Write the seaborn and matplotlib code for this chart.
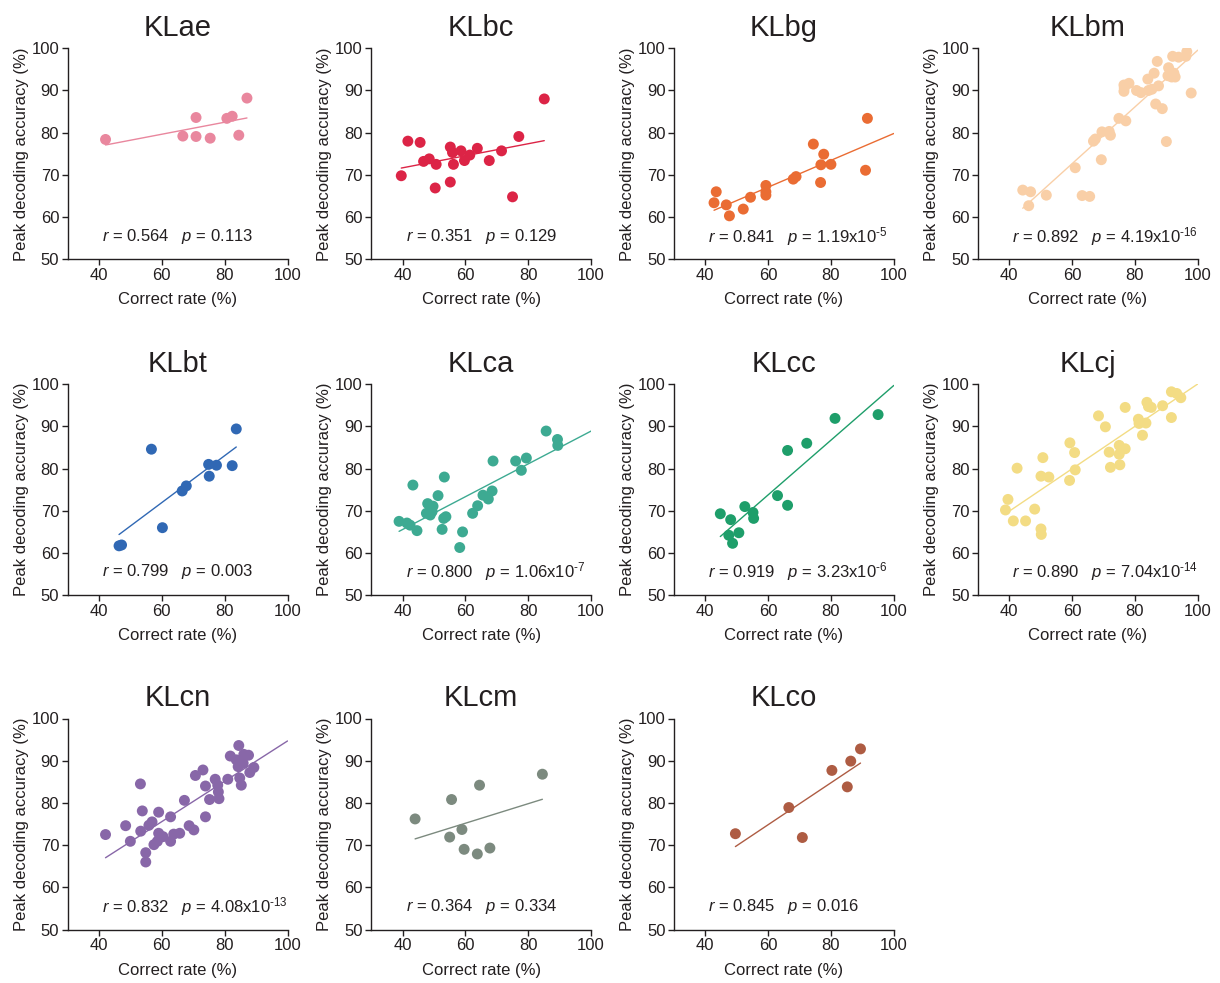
import numpy as np
import pandas as pd
import matplotlib
matplotlib.use("Agg")
import matplotlib.pyplot as plt
import seaborn as sns

# ---------------- data ----------------
names = ["KLae", "KLbc", "KLbg", "KLbm", "KLbt", "KLca", "KLcc", "KLcj", "KLcn", "KLcm", "KLco"]
colors = ["#E9879E", "#DC2446", "#EA6C33", "#F9CFA7", "#3068B4", "#3DAA92",
          "#1E9E6A", "#F3DC84", "#8867A8", "#7C8A7F", "#AE5C43"]
r_text = ["0.564", "0.351", "0.841", "0.892", "0.799", "0.800", "0.919", "0.890", "0.832", "0.364", "0.845"]
p_text = ["0.113", "0.129", "1.19x10$^{\\text{-}5}$", "4.19x10$^{\\text{-}16}$", "0.003", "1.06x10$^{\\text{-}7}$",
          "3.23x10$^{\\text{-}6}$", "7.04x10$^{\\text{-}14}$", "4.08x10$^{\\text{-}13}$", "0.334", "0.016"]
line_to_edge = [False, False, True, True, False, True, True, True, True, False, False]

klae_x = [42.1, 66.7, 70.9, 70.9, 75.4, 80.7, 82.4, 84.5, 87.1]
klae_y = [78.4, 79.2, 83.6, 79.1, 78.7, 83.4, 83.9, 79.4, 88.2]

klbc_x = [39.6, 41.7, 45.6, 46.7, 48.5, 50.7, 50.4, 55.2, 55.9, 55.2, 56.2, 58.6, 59.7, 61.4, 63.8, 67.6, 71.5, 75.0, 77.0, 85.1]
klbc_y = [69.8, 78.0, 77.7, 73.2, 73.8, 72.5, 66.9, 76.6, 75.3, 68.3, 72.5, 75.7, 73.4, 74.7, 76.3, 73.4, 75.7, 64.8, 79.1, 88.0]

klbg_x = [43.5, 42.8, 46.7, 47.7, 52.1, 54.4, 59.3, 59.3, 59.3, 68.0, 68.9, 74.4, 77.7, 76.8, 76.7, 80.0, 91.0, 91.6]
klbg_y = [66.0, 63.4, 62.9, 60.3, 61.9, 64.7, 67.5, 66.0, 65.2, 69.0, 69.6, 77.3, 74.9, 72.4, 68.2, 72.5, 71.1, 83.4]

klbm_x = [44.3, 46.8, 46.2, 51.8, 61.0, 63.2, 65.6, 69.3, 66.8, 67.4, 69.5, 71.8, 72.2, 74.9, 77.1,
          76.5, 76.5, 78.1, 76.6, 80.5, 81.9, 84.3, 85.4, 87.5, 84.1, 86.1, 87.1, 86.6, 88.7, 90.0,
          90.7, 91.3, 91.7, 90.5, 92.4, 92.8, 92.0, 93.9, 96.2, 96.5, 97.9]
klbm_y = [66.4, 66.0, 62.7, 65.2, 71.7, 65.1, 64.9, 73.6, 78.0, 78.5, 80.2, 80.3, 79.4, 83.4, 82.8,
          91.3, 89.8, 91.7, 90.6, 90.0, 89.5, 90.0, 90.3, 91.1, 92.7, 94.1, 96.9, 86.8, 85.7, 77.9,
          95.4, 93.9, 93.2, 93.5, 94.1, 93.2, 98.1, 97.9, 98.1, 99.2, 89.4]

klbt_x = [46.4, 47.2, 56.7, 60.2, 66.5, 67.8, 74.9, 75.1, 77.4, 82.4, 83.7]
klbt_y = [61.7, 61.9, 84.6, 66.0, 74.7, 75.9, 81.0, 78.2, 80.8, 80.7, 89.4]

klca_x = [38.9, 41.4, 42.4, 43.3, 44.6, 48.0, 49.7, 47.6, 48.8, 49.4, 51.3, 52.6, 53.3, 53.1, 53.8,
          58.2, 59.1, 62.3, 63.9, 65.6, 67.3, 68.5, 68.8, 76.0, 77.8, 79.4, 85.7, 89.3, 89.4]
klca_y = [67.5, 67.1, 66.6, 76.1, 65.3, 71.7, 71.1, 69.4, 69.0, 69.8, 73.6, 65.6, 78.0, 68.2, 68.6,
          61.3, 65.0, 69.4, 71.2, 73.7, 72.8, 74.7, 81.8, 81.8, 79.6, 82.5, 88.9, 86.9, 85.5]

klcc_x = [44.8, 48.1, 47.5, 48.7, 50.7, 52.6, 55.2, 55.4, 63.0, 66.2, 66.2, 72.3, 81.3, 95.0]
klcc_y = [69.3, 67.9, 64.2, 62.3, 64.8, 71.0, 69.6, 68.2, 73.6, 84.3, 71.3, 86.0, 91.9, 92.8]

klcj_x = [38.8, 39.6, 41.3, 42.5, 45.2, 48.1, 50.1, 50.2, 50.1, 50.7, 52.6, 59.2, 59.3, 60.8, 61.0,
          68.4, 70.6, 71.8, 72.2, 75.0, 75.0, 75.2, 76.9, 76.9, 81.1, 81.3, 83.5, 82.4, 83.8, 84.3,
          85.2, 88.8, 91.6, 91.6, 93.3, 94.6]
klcj_y = [70.2, 72.7, 67.6, 80.1, 67.6, 70.4, 65.7, 64.4, 78.2, 82.6, 78.0, 77.2, 86.1, 83.8, 79.7,
          92.5, 89.9, 83.9, 80.3, 85.5, 83.4, 80.9, 84.7, 94.5, 91.7, 90.7, 90.8, 87.9, 95.7, 94.7,
          94.5, 94.9, 92.1, 98.2, 97.8, 96.8]

klcn_x = [42.1, 48.5, 50.0, 53.2, 53.8, 53.3, 54.9, 54.9, 55.9, 56.9, 59.0, 57.5, 58.6, 59.0, 60.4,
          62.8, 62.8, 63.8, 65.7, 67.2, 68.7, 70.2, 70.7, 73.1, 73.9, 73.9, 75.2, 77.0, 77.8, 78.2,
          78.0, 81.0, 81.8, 83.7, 84.5, 84.3, 84.8, 85.3, 86.1, 87.6, 88.0, 89.3, 85.9]
klcn_y = [72.5, 74.6, 70.9, 84.5, 78.1, 73.3, 68.2, 66.0, 74.7, 75.5, 77.8, 70.1, 70.9, 72.8, 72.0,
          76.7, 70.9, 72.6, 72.8, 80.6, 74.6, 73.6, 86.5, 87.8, 84.0, 76.7, 80.8, 85.6, 84.2, 81.0,
          82.6, 85.6, 91.1, 90.2, 93.6, 88.6, 85.9, 84.2, 91.5, 91.3, 87.2, 88.4, 89.4]

klcm_x = [44.0, 55.0, 55.6, 58.9, 59.6, 63.8, 64.5, 67.8, 84.5]
klcm_y = [76.2, 71.9, 80.8, 73.7, 69.0, 67.9, 84.2, 69.3, 86.8]

klco_x = [49.6, 66.6, 70.9, 80.3, 85.2, 86.3, 89.4]
klco_y = [72.7, 78.9, 71.8, 87.7, 83.8, 89.9, 92.8]

xs = [klae_x, klbc_x, klbg_x, klbm_x, klbt_x, klca_x, klcc_x, klcj_x, klcn_x, klcm_x, klco_x]
ys = [klae_y, klbc_y, klbg_y, klbm_y, klbt_y, klca_y, klcc_y, klcj_y, klcn_y, klcm_y, klco_y]

x_ticks = [40, 60, 80, 100]
y_ticks = [50, 60, 70, 80, 90, 100]

# ---------------- style ----------------
sns.set_style("ticks")
txt_col = "#231F20"
plt.rcParams["font.family"] = ["Liberation Sans", "DejaVu Sans"]
plt.rcParams["mathtext.fontset"] = "custom"
plt.rcParams["mathtext.rm"] = "Liberation Sans"
plt.rcParams["mathtext.it"] = "Liberation Sans:italic"
plt.rcParams["text.color"] = txt_col
plt.rcParams["axes.labelcolor"] = txt_col
plt.rcParams["xtick.color"] = txt_col
plt.rcParams["ytick.color"] = txt_col

W, H = 1220, 983
fig = plt.figure(figsize=(W / 100, H / 100), dpi=100)

col_left = [67.5, 371.1, 673.8, 977.8]
row_top = [48.3, 384.2, 718.5]
ax_w, ax_h = 220.0, 211.0

for i, name in enumerate(names):
    r, c = divmod(i, 4)
    left = col_left[c] / W
    bottom = 1 - (row_top[r] + ax_h) / H
    ax = fig.add_axes([left, bottom, ax_w / W, ax_h / H])

    x = np.array(xs[i])
    y = np.array(ys[i])
    df = pd.DataFrame({"x": x, "y": y})

    slope, icpt = np.polyfit(x, y, 1)
    x_end = 100.0 if line_to_edge[i] else x.max()
    lx = np.array([x.min(), x_end])
    ly = slope * lx + icpt
    line_df = pd.DataFrame({"x": lx, "y": ly})
    sns.lineplot(data=line_df, x="x", y="y", ax=ax, color=colors[i], linewidth=1.0, zorder=2)
    sns.scatterplot(data=df, x="x", y="y", ax=ax, color=colors[i], s=62,
                    edgecolor="none", linewidth=0, zorder=3)

    ax.set_xlim(30, 100)
    ax.set_ylim(50, 100)
    ax.set_xticks(x_ticks)
    ax.set_yticks(y_ticks)
    ax.tick_params(axis="both", labelsize=12, length=4, width=1, direction="out", pad=2)
    for s in ["top", "right"]:
        ax.spines[s].set_visible(False)
    for s in ["left", "bottom"]:
        ax.spines[s].set_linewidth(1.0)
        ax.spines[s].set_color(txt_col)
    ax.set_xlabel("Correct rate (%)", fontsize=12, labelpad=7)
    ax.set_ylabel("Peak decoding accuracy (%)", fontsize=12, labelpad=2)
    ax.set_title(name, fontsize=21, pad=9, color=txt_col)
    ax.text(41, 55.5, r"$\it{r}$ = " + r_text[i] + r"   $\it{p}$ = " + p_text[i],
            fontsize=12, ha="left", va="center", color=txt_col)

fig.savefig("out.png", dpi=100)
